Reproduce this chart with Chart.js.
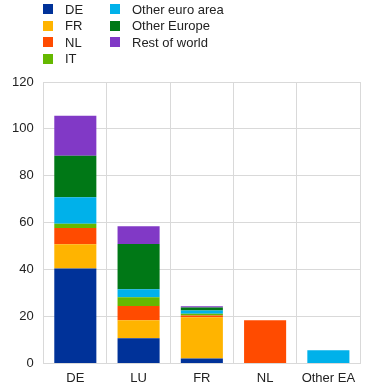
<!DOCTYPE html>
<html>
<head>
<meta charset="utf-8">
<script src="https://cdn.jsdelivr.net/npm/chart.js@4/dist/chart.umd.min.js"></script>
<style>
  html, body { margin: 0; padding: 0; background: #fff; }
  #wrap { position: relative; width: 372px; height: 390px; }
  #chart { display: block; }
  #legend {
    position: absolute; left: 43px; top: 1px;
    display: grid; grid-template-rows: repeat(4, 16.5px); grid-auto-flow: column;
    grid-template-columns: 67px auto;
    font: 13px "Liberation Sans", Arial, sans-serif; color: #222;
  }
  .item { display: flex; align-items: center; }
  .box { width: 10px; height: 10px; margin-right: 12px; }
</style>
</head>
<body>
<div id="wrap">
  <div id="legend"></div>
  <canvas id="chart" width="372" height="390"></canvas>
</div>
<script>
// Categories (x axis)
const categories = ['DE', 'LU', 'FR', 'NL', 'Other EA'];

// Series values, one per category
const seriesNames = ['DE', 'FR', 'NL', 'IT', 'Other euro area', 'Other Europe', 'Rest of world'];
const deValues       = [40.5, 10.7, 2.1, 0, 0];
const frValues       = [10.3, 7.7, 17.6, 0, 0];
const nlValues       = [6.9, 6.1, 0.7, 18.4, 0];
const itValues       = [1.9, 3.7, 0.8, 0, 0];
const otherEAValues  = [11.2, 3.4, 1.4, 0, 5.6];
const otherEurValues = [17.8, 19.3, 1.2, 0, 0];
const restValues     = [17.0, 7.6, 0.6, 0, 0];

// Y axis ticks
const yTicks = [0, 20, 40, 60, 80, 100, 120];

const colors = ['#003299', '#FFB400', '#FF4B00', '#65B800', '#00B1EA', '#007816', '#8139C6'];
const allValues = [deValues, frValues, nlValues, itValues, otherEAValues, otherEurValues, restValues];

const datasets = seriesNames.map((name, i) => ({
    label: name,
    data: allValues[i],
    backgroundColor: colors[i],
    borderWidth: 0,
    categoryPercentage: 1,
    barPercentage: 0.665
}));

// Legend in two columns
document.getElementById('legend').innerHTML = seriesNames.map((name, i) =>
    `<div class="item"><span class="box" style="background:${colors[i]}"></span>${name}</div>`
).join('');

const font = { family: '"Liberation Sans", Arial, sans-serif', size: 13 };

new Chart(document.getElementById('chart').getContext('2d'), {
    type: 'bar',
    data: { labels: categories, datasets: datasets },
    options: {
        responsive: false,
        animation: false,
        layout: { padding: { top: 82, left: 2, right: 12, bottom: -3 } },
        plugins: { legend: { display: false }, tooltip: { enabled: false } },
        scales: {
            x: {
                stacked: true,
                grid: { color: '#d9d9d9', drawTicks: false },
                border: { color: '#d9d9d9' },
                ticks: { color: '#222', font: font, padding: 7 }
            },
            y: {
                stacked: true,
                min: 0, max: 120,
                afterBuildTicks: axis => { axis.ticks = yTicks.map(v => ({ value: v })); },
                grid: { color: '#d9d9d9', drawTicks: false },
                border: { display: false },
                ticks: { color: '#222', font: font, padding: 10 }
            }
        }
    }
});
</script>
</body>
</html>
